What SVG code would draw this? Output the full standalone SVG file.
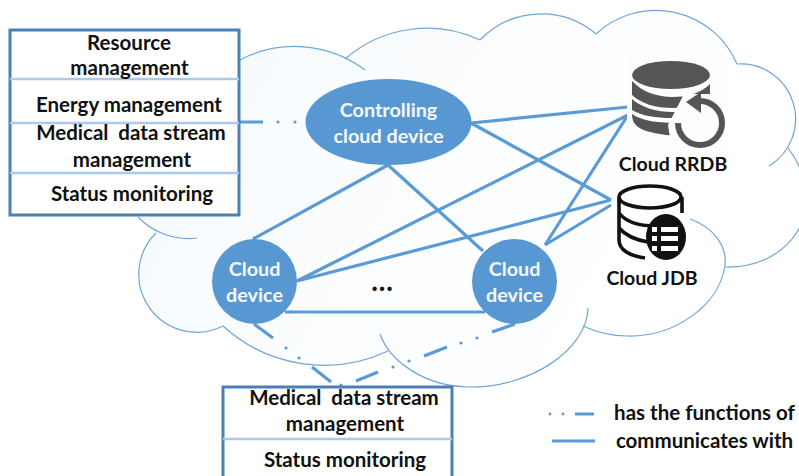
<svg xmlns="http://www.w3.org/2000/svg" width="799" height="476" viewBox="0 0 799 476">
<style>
text{font-family:"Lato","Liberation Sans",sans-serif;font-weight:700;text-anchor:middle;white-space:pre}
.k{fill:#111;font-size:20.5px}
.w{fill:#f4f9fd;font-size:19.8px}
.s{font-size:19.5px}
.c{fill:none;stroke:#6fa5d8;stroke-width:1.2}
.l{fill:none;stroke:#5b9bd5;stroke-width:3.2}
.d{fill:#5b9bd5}
.tb{fill:#fff;stroke:#4a80b6;stroke-width:3}
.dv{stroke:#abcaea;stroke-width:2.6}
.n{fill:#5898d2}
</style>
<defs>
<linearGradient id="cg" gradientUnits="userSpaceOnUse" x1="150" y1="60" x2="650" y2="360">
<stop offset="0" stop-color="#f6fafd"/><stop offset="0.7" stop-color="#fdfeff"/><stop offset="1" stop-color="#fff"/>
</linearGradient>
</defs>
<rect width="799" height="476" fill="#fff"/>
<g id="cloud">
<path fill="url(#cg)" d="M240,60A117,117 0 0 1 345,59A125,125 0 0 1 480,40A85,85 0 0 1 596,34A88,88 0 0 1 737,64A55,55 0 0 1 788,148C805,170 815,205 797,232C783,255 755,268 725,267C720,305 675,337 627,336C610,336 596,332 583,326C565,365 520,388 468,387C435,386 405,372 388,351A150,150 0 0 1 223,326A58,58 0 0 1 156,233L140,215Z"/>
<path class="c" d="M240,60A117,117 0 0 1 365,70"/>
<path class="c" d="M345,59A125,125 0 0 1 480,40"/>
<path class="c" d="M480,40A85,85 0 0 1 596,34"/>
<path class="c" d="M596,34A88,88 0 0 1 737,64"/>
<path class="c" d="M737,64A55,55 0 0 1 769,166"/>
<path class="c" d="M788,148C805,170 815,205 797,232C783,255 755,268 725,267"/>
<path class="c" d="M690,219C715,228 727,247 725,265C720,305 675,337 627,336C610,336 596,332 583,326"/>
<path class="c" d="M588,308C587,350 530,388 468,387C425,386 390,362 380,334"/>
<path class="c" d="M388,351A150,150 0 0 1 223,326"/>
<path class="c" d="M223,326A58,58 0 0 1 156,233"/>
<path class="c" d="M138,217A70,70 0 0 0 197,238"/>
</g>
<g id="connectors">
<path class="l" d="M471,123L628,107M471,123L611,200M297,281L628,115M297,281L611,200M545,245L628,115M545,245L611,205M388,165L253,239M388,165L483,251M285,312L485,312"/>
<path class="l" d="M240,122L263,122M254,324L273,338M312,367L331,382M356,381L378,372M424,356L447,347M492,332L515,324"/>
<g class="d">
<circle cx="278" cy="122" r="1.6"/><circle cx="295" cy="122" r="1.6"/>
<circle cx="286" cy="348" r="1.6"/><circle cx="299" cy="358" r="1.6"/><circle cx="341" cy="385" r="1.6"/>
<circle cx="393" cy="367" r="1.6"/><circle cx="409" cy="361" r="1.6"/><circle cx="461" cy="343" r="1.6"/><circle cx="477" cy="338" r="1.6"/>
</g>
</g>
<g id="controller">
<ellipse class="n" cx="388.5" cy="122" rx="83" ry="43"/>
<text class="w" x="388.5" y="117">Controlling</text>
<text class="w" x="388.5" y="143">cloud device</text>
</g>
<g id="device-left">
<circle class="n" cx="254.5" cy="281.5" r="42.5"/>
<text class="w" x="254.5" y="276">Cloud</text>
<text class="w" x="254.5" y="302">device</text>
</g>
<g id="device-right">
<circle class="n" cx="514.5" cy="281.5" r="42.5"/>
<text class="w" x="514.5" y="276">Cloud</text>
<text class="w" x="514.5" y="302">device</text>
</g>
<text class="k" x="382" y="291" style="font-size:28px">…</text>
<g id="rrdb">
<rect x="627" y="55" width="100" height="95" fill="#fcfdfe"/>
<g fill="#555">
<ellipse cx="671" cy="75" rx="39" ry="14"/>
<path d="M632,81C642,92 658,97 672,97C686,97 700,94 710,84V97C700,105 686,108 672,108C656,108 642,104 632,95Z"/>
<path d="M632,99C642,108 658,112 672,112C686,112 700,110 710,104V118H672C656,118 642,116 632,110Z"/>
<path d="M632,114C642,121 658,123 680,123V136C660,135 645,132 638,127C634,124 632,120 632,114Z"/>
</g>
<path d="M708,94H684L668,125L672,150H727V94Z" fill="#fcfdfe"/>
<path d="M700,101A22,22 0 1 1 678,123" fill="none" stroke="#555" stroke-width="6"/>
<path d="M686,102L701,92L701,113Z" fill="#555"/>
</g>
<text class="k s" x="673" y="171">Cloud RRDB</text>
<g id="jdb">
<ellipse cx="650" cy="197" rx="31" ry="11" fill="#fff" stroke="#111" stroke-width="3.6"/>
<path d="M619,197V240C619,250 630,256 645,258M619,213C626,222 640,226 655,226M619,228C626,236 636,240 648,242M682,197V213" fill="none" stroke="#111" stroke-width="3.6"/>
<ellipse cx="666" cy="237" rx="20" ry="23" fill="#111"/>
<g fill="#fff">
<rect x="652" y="227" width="5" height="5"/><rect x="661" y="227" width="17" height="5"/>
<rect x="652" y="236" width="5" height="5"/><rect x="661" y="236" width="17" height="5"/>
<rect x="652" y="246" width="5" height="5"/><rect x="661" y="246" width="17" height="5"/>
</g>
</g>
<text class="k s" x="652" y="285">Cloud JDB</text>
<g id="table-top">
<rect class="tb" x="10" y="30" width="229" height="185"/>
<path class="dv" d="M10,79H239M10,123H239M10,173H239"/>
<text class="k" x="129" y="50">Resource</text>
<text class="k" x="129.5" y="75">management</text>
<text class="k" x="129" y="112">Energy management</text>
<text class="k" x="131" y="140">Medical  data stream</text>
<text class="k" x="132" y="167">management</text>
<text class="k" x="132" y="201">Status monitoring</text>
</g>
<g id="table-bottom">
<rect class="tb" x="223" y="387" width="229" height="100"/>
<path class="dv" d="M223,439H452"/>
<text class="k" x="344" y="405">Medical  data stream</text>
<text class="k" x="345" y="431">management</text>
<text class="k" x="345" y="467">Status monitoring</text>
</g>
<g id="legend">
<circle class="d" cx="550" cy="414" r="1.4"/><circle class="d" cx="563" cy="414" r="1.4"/>
<path class="l" d="M575,414H594M552,441H595"/>
<text class="k" x="704.5" y="420">has the functions of</text>
<text class="k" x="704.5" y="448">communicates with</text>
</g>
</svg>
